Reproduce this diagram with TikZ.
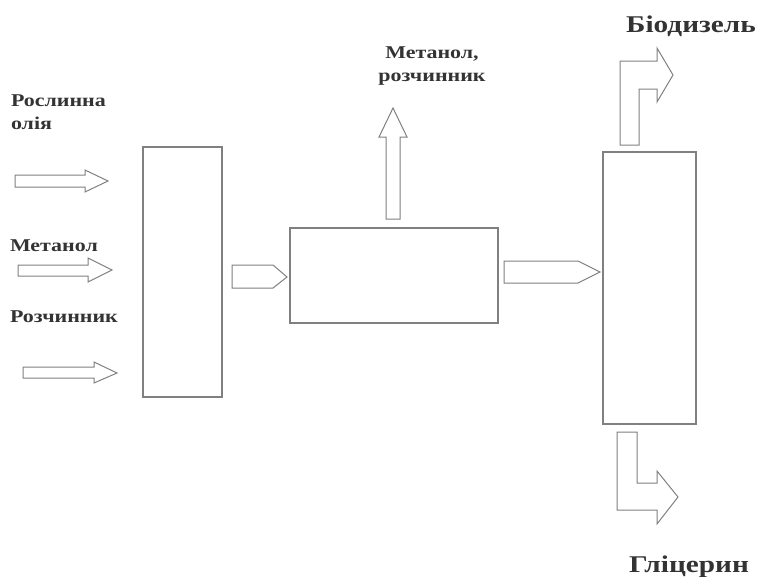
\documentclass[tikz,border=0pt]{standalone}
\usepackage{fontspec}
\setmainfont{Liberation Serif}
\newfontfamily\lblfont[FakeStretch=1.22]{Liberation Serif}
\begin{document}
\begin{tikzpicture}[x=1pt, y=-1pt,
    every node/.style={inner sep=0pt, outer sep=0pt},
    unit/.style={draw=black!50, line width=1.2pt, rectangle},
    flow/.style={draw=black!50, line width=1pt, line join=miter},
    txt/.style={font=\lblfont\bfseries\fontsize{18}{23}\selectfont, text=black!80},
    bigtxt/.style={font=\lblfont\bfseries\fontsize{24}{28}\selectfont, text=black!80}]
  \useasboundingbox (0,0) rectangle (758,576);

  % Apparati
  \node[unit, minimum width=79pt, minimum height=250pt] (mix) at (182.5,272) {};
  \node[unit, minimum width=208pt, minimum height=95pt] (react) at (394,275.5) {};
  \node[unit, minimum width=93pt, minimum height=272pt] (sep) at (649.5,288) {};

  % Ingressi
  \node[txt, anchor=base west, align=left] (oil) at (11,129) {Рослинна\\олія};
  \node[txt, anchor=base west] (meth) at (10,251) {Метанол};
  \node[txt, anchor=base west] (solv) at (10,322) {Розчинник};
  \draw[flow] (15,175) -- (85,175) -- (85,170) -- (108,181) -- (85,192) -- (85,187) -- (15,187) -- cycle;
  \draw[flow] (18,265) -- (88,265) -- (88,258) -- (112,270) -- (88,282) -- (88,276) -- (18,276) -- cycle;
  \draw[flow] (23,367) -- (94,367) -- (94,362) -- (117,373) -- (94,383) -- (94,378) -- (23,378) -- cycle;

  % Collegamenti
  \draw[flow] (232,265) -- (273,265) -- (287,277) -- (273,288) -- (232,288) -- cycle;
  \draw[flow] (504,261) -- (578,261) -- (600,272) -- (578,283) -- (504,283) -- cycle;

  % Uscite
  \node[txt, align=center] (vap) at (432,66) {Метанол,\\розчинник};
  \draw[flow] (386,219) -- (386,137) -- (379,137) -- (393,108) -- (407,137) -- (400,137) -- (400,219) -- cycle;
  \node[bigtxt, anchor=base] (bio) at (691,32) {Біодизель};
  \draw[flow] (620,145) -- (620,61) -- (657,61) -- (657,48) -- (673,75) -- (657,102) -- (657,89) -- (639,89) -- (639,145) -- cycle;
  \node[bigtxt, anchor=base] (gly) at (689,572) {Гліцерин};
  \draw[flow] (617,432) -- (637,432) -- (637,483) -- (657,483) -- (657,471) -- (678,497) -- (657,524) -- (657,510) -- (617,510) -- cycle;
\end{tikzpicture}
\end{document}
